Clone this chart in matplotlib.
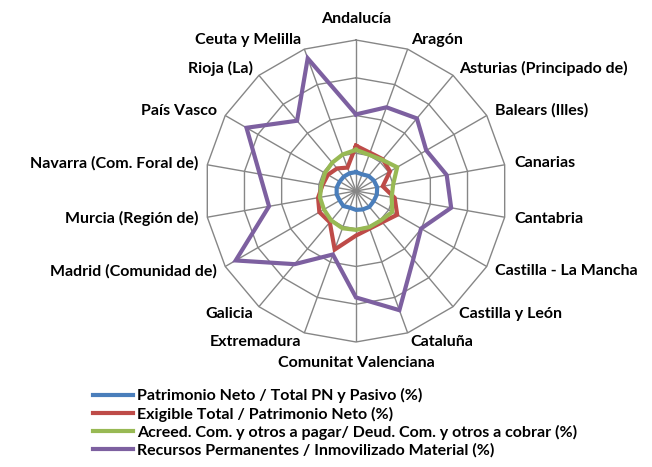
import numpy as np
import matplotlib.pyplot as plt

plt.rcParams['font.family'] = ['Lato', 'DejaVu Sans']

regiones = ['Andalucía', 'Aragón', 'Asturias (Principado de)', 'Balears (Illes)',
            'Canarias', 'Cantabria', 'Castilla - La Mancha', 'Castilla y León',
            'Cataluña', 'Comunitat Valenciana', 'Extremadura', 'Galicia',
            'Madrid (Comunidad de)', 'Murcia (Región de)', 'Navarra (Com. Foral de)',
            'País Vasco', 'Rioja (La)', 'Ceuta y Melilla']

# valores (%)
pn_total = [50, 47, 52, 55, 57, 56, 54, 55, 52, 50, 47, 52, 50, 52, 52, 50, 50, 50]
exigible_pn = [120, 108, 110, 104, 72, 104, 126, 108, 106, 118, 165, 108, 112, 102, 90, 86, 78, 66]
acreed_deud = [109, 102, 108, 126, 100, 96, 111, 102, 102, 103, 105, 102, 98, 97, 93, 95, 98, 103]
recursos_inmov = [203, 236, 251, 215, 244, 256, 199, 236, 336, 282, 179, 253, 368, 234, 259, 335, 243, 374]

series = ['Patrimonio Neto / Total PN y Pasivo (%)',
          'Exigible Total / Patrimonio Neto (%)',
          'Acreed. Com. y otros a pagar/ Deud. Com. y otros a cobrar (%)',
          'Recursos Permanentes / Inmovilizado Material (%)']
colores = ['#4A7EBB', '#BE4B48', '#98B954', '#7D60A0']
anillos = [100, 200, 300, 400]

n = len(regiones)
ang = np.deg2rad(np.arange(n) * 360 / n)
ang_c = np.append(ang, ang[0])

fig = plt.figure(figsize=(6.52, 4.67), dpi=100)
ax = fig.add_axes([0.3144, 0.2677, 0.4632, 0.6466], projection='polar')
ax.set_theta_zero_location('N')
ax.set_theta_direction(-1)
ax.set_ylim(0, 400)
ax.grid(False)
ax.spines['polar'].set_visible(False)
ax.set_xticks([])
ax.set_yticks([])
ax.patch.set_alpha(0)

# rejilla poligonal tipo Excel
for r in anillos:
    ax.plot(ang_c, [r] * (n + 1), color='#868686', lw=1, clip_on=False)
for a in ang:
    ax.plot([a, a], [0, 400], color='#868686', lw=1)

datos = [pn_total, exigible_pn, acreed_deud, recursos_inmov]
for nombre, vals, c in zip(series, datos, colores):
    ax.plot(ang_c, vals + vals[:1], color=c, lw=3, label=nombre,
            solid_joinstyle='miter', clip_on=False)

for a, nom in zip(ang, regiones):
    s = np.sin(a)
    r_txt = 425
    if s > 0.1:
        ha = 'left'
    elif s < -0.1:
        ha = 'right'
    else:
        ha = 'center'
    va = 'center'
    if abs(s) <= 0.1:
        va = 'bottom' if np.cos(a) > 0 else 'top'
        r_txt = 438
    ax.text(a, r_txt, nom, ha=ha, va=va, fontsize=11.5, fontweight='bold', clip_on=False)

fig.legend(loc='upper left', bbox_to_anchor=(0.1426, 0.169), frameon=False,
           prop={'size': 11.5, 'weight': 'bold'}, handlelength=2.5,
           handletextpad=0.25, labelspacing=0.21, borderaxespad=0, borderpad=0)

fig.savefig('out.png', dpi=100)
